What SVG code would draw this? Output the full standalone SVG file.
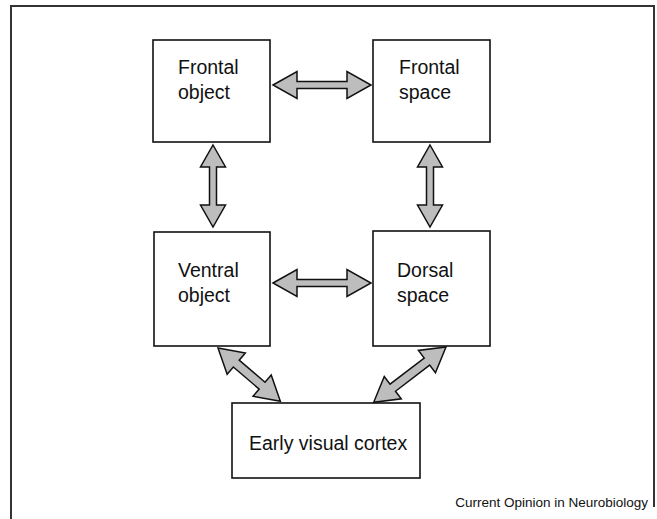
<svg xmlns="http://www.w3.org/2000/svg" width="657" height="519" viewBox="0 0 657 519">
<style>
.box{fill:#fff;stroke:#111;stroke-width:1.6}
.lbl{font-family:"Liberation Sans",Arial,sans-serif;font-size:19.5px;fill:#111}
.arr{fill:#bdbdbd;stroke:#111;stroke-width:1.5;stroke-linejoin:miter}
.frame{fill:none;stroke:#333;stroke-width:2}
.credit{font-family:"Liberation Sans",Arial,sans-serif;font-size:13.5px;fill:#111}
</style>
<rect width="657" height="519" fill="#fff"/>
<path class="frame" d="M11,519 L11,6 L654,6 L654,507"/>
<g id="connectors">
<path class="arr" transform="translate(273,85)" d="M0,0 L24,-13.5 L24,-3.5 L74,-3.5 L74,-13.5 L98,0 L74,13.5 L74,3.5 L24,3.5 L24,13.5 Z"/>
<path class="arr" transform="translate(273,283)" d="M0,0 L24,-13.5 L24,-3.5 L74,-3.5 L74,-13.5 L98,0 L74,13.5 L74,3.5 L24,3.5 L24,13.5 Z"/>
<path class="arr" transform="translate(213,145) rotate(90)" d="M0,0 L22,-12.5 L22,-3.5 L60,-3.5 L60,-12.5 L82,0 L60,12.5 L60,3.5 L22,3.5 L22,12.5 Z"/>
<path class="arr" transform="translate(430,145) rotate(90)" d="M0,0 L22,-12.5 L22,-3.5 L60,-3.5 L60,-12.5 L82,0 L60,12.5 L60,3.5 L22,3.5 L22,12.5 Z"/>
<path class="arr" transform="translate(218,348) rotate(40.5)" d="M0,0 L24,-14 L24,-4.5 L58,-4.5 L58,-14 L82,0 L58,14 L58,4.5 L24,4.5 L24,14 Z"/>
<path class="arr" transform="translate(446,347) rotate(142.6)" d="M0,0 L24,-14 L24,-4.5 L67,-4.5 L67,-14 L91,0 L67,14 L67,4.5 L24,4.5 L24,14 Z"/>
</g>
<g id="frontal-object">
<rect class="box" x="153" y="40" width="117" height="102"/>
<text class="lbl" x="178" y="74">Frontal</text>
<text class="lbl" x="178" y="99">object</text>
</g>
<g id="frontal-space">
<rect class="box" x="373" y="40" width="117" height="102"/>
<text class="lbl" x="399" y="74">Frontal</text>
<text class="lbl" x="399" y="99">space</text>
</g>
<g id="ventral-object">
<rect class="box" x="154" y="232" width="116" height="114"/>
<text class="lbl" x="178" y="277">Ventral</text>
<text class="lbl" x="178" y="302">object</text>
</g>
<g id="dorsal-space">
<rect class="box" x="373" y="231" width="117" height="115"/>
<text class="lbl" x="397" y="277">Dorsal</text>
<text class="lbl" x="397" y="302">space</text>
</g>
<g id="early-visual-cortex">
<rect class="box" x="232" y="403" width="188" height="75"/>
<text class="lbl" x="249" y="450">Early visual cortex</text>
</g>
<text class="credit" x="648" y="507" text-anchor="end">Current Opinion in Neurobiology</text>
</svg>
